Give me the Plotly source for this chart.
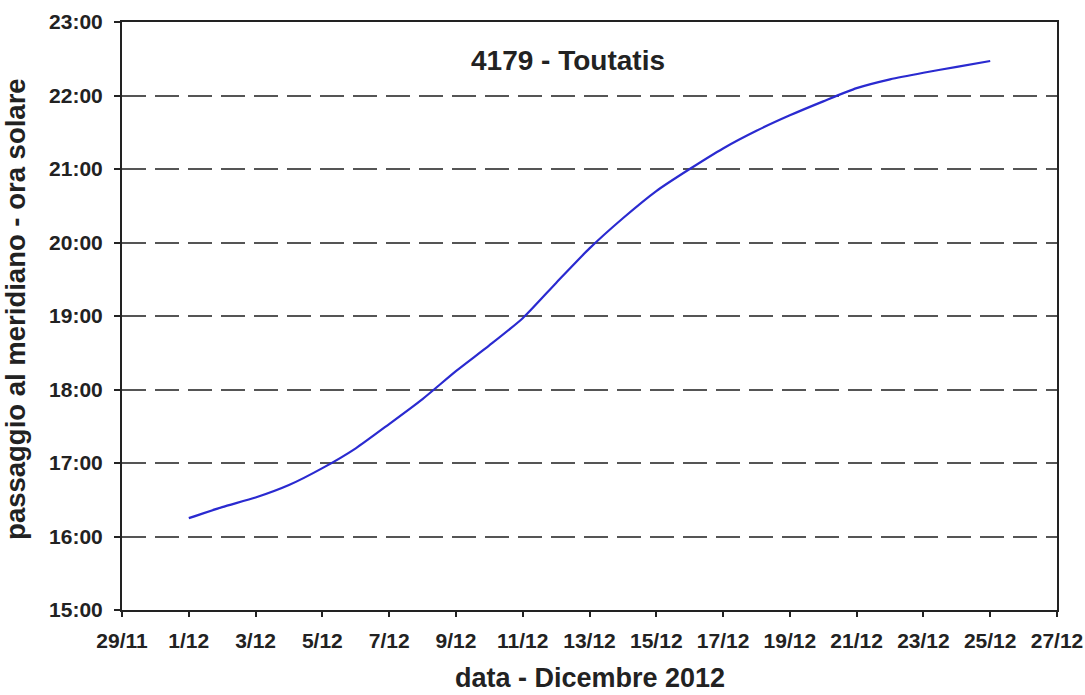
import plotly.graph_objects as go

# Data: meridian transit time (decimal hours, solar time) for each day of December 2012
dates = ["2012-12-%02d" % d for d in range(1, 26)]
hours = [16.25, 16.40, 16.53, 16.70, 16.93, 17.20, 17.53, 17.87, 18.25, 18.60,
         18.97, 19.45, 19.92, 20.33, 20.70, 21.00, 21.28, 21.52, 21.73, 21.92,
         22.10, 22.22, 22.31, 22.39, 22.47]
y_ticks = [15, 16, 17, 18, 19, 20, 21, 22, 23]
y_ticklabels = ["%d:00" % h for h in y_ticks]

title_text = "4179 - Toutatis"
x_title = "data - Dicembre 2012"
y_title = "passaggio al meridiano - ora solare"

FONT = "Liberation Sans, Arial, sans-serif"
TXT = "#222222"

fig = go.Figure()
fig.add_trace(go.Scatter(
    x=dates, y=hours, mode="lines",
    line=dict(color="#2a2ad0", width=2.2, shape="spline", smoothing=0.6),
    showlegend=False, hoverinfo="skip",
))

fig.update_layout(
    width=1085, height=695,
    margin=dict(l=122, r=28, t=22, b=85),
    paper_bgcolor="white", plot_bgcolor="white",
    font=dict(family=FONT, color=TXT),
    xaxis=dict(
        type="date",
        range=["2012-11-29", "2012-12-27"],
        tick0="2012-11-29", dtick=2 * 86400000,
        tickformat="%-d/%m",
        showgrid=False, zeroline=False, automargin=False,
        showline=True, linecolor="#222", linewidth=2, mirror=True,
        ticks="outside", ticklen=5, tickcolor="#222", tickwidth=1.5,
        ticklabelstandoff=6,
        tickfont=dict(size=21, family=FONT, color=TXT, weight="bold"),
    ),
    yaxis=dict(
        range=[15, 23],
        tickvals=y_ticks, ticktext=y_ticklabels,
        showgrid=True, gridcolor="#555555", gridwidth=1.5, griddash="24px,9px",
        zeroline=False, automargin=False,
        showline=True, linecolor="#222", linewidth=2, mirror=True,
        ticks="outside", ticklen=6, tickcolor="#222", tickwidth=1.5,
        ticklabelstandoff=7,
        tickfont=dict(size=21, family=FONT, color=TXT, weight="bold"),
    ),
    annotations=[
        dict(text="<b>%s</b>" % title_text, xref="paper", yref="paper",
             x=0.4765, y=0.935, xanchor="center", yanchor="middle", showarrow=False,
             font=dict(size=28, family=FONT, color=TXT)),
        dict(text="<b>%s</b>" % x_title, xref="paper", yref="paper",
             x=0.5, y=-0.115, xanchor="center", yanchor="middle", showarrow=False,
             font=dict(size=27, family=FONT, color=TXT)),
        dict(text="<b>%s</b>" % y_title, xref="paper", yref="paper",
             x=-0.1134, y=0.512, xanchor="center", yanchor="middle", textangle=-90,
             showarrow=False, font=dict(size=27.5, family=FONT, color=TXT)),
    ],
)

fig.write_html("out.html", config={"displayModeBar": False},
               post_script="document.body.style.margin='0';")
